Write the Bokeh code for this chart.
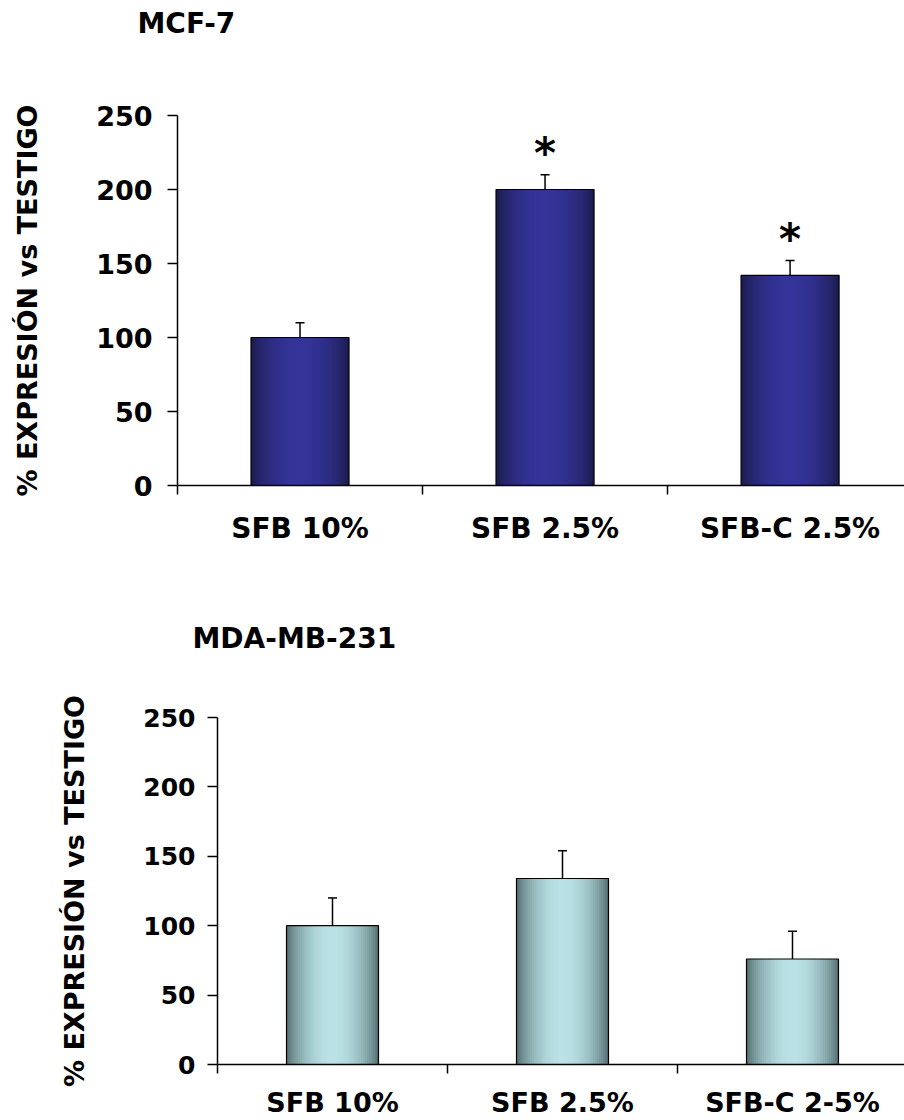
import numpy as np
from bokeh.plotting import figure
from bokeh.models import Range1d, FixedTicker, Whisker, TeeHead, ColumnDataSource, Title
from bokeh.embed import file_html
from bokeh.resources import INLINE
from bokeh.core.properties import value

# ---------------- data ----------------
title_top = "MCF-7"
categories_top = ["SFB 10%", "SFB 2.5%", "SFB-C 2.5%"]
values_top = [100, 200, 142]
errors_top = [10, 10, 10]
signif_top = [False, True, True]

title_bot = "MDA-MB-231"
categories_bot = ["SFB 10%", "SFB 2.5%", "SFB-C 2-5%"]
values_bot = [100, 134, 76]
errors_bot = [20, 20, 20]
signif_bot = [False, False, False]

y_ticks = [0, 50, 100, 150, 200, 250]
y_label = "% EXPRESIÓN vs TESTIGO"

FONT = "DejaVu Sans"


def hex_to_rgb(h):
    h = h.lstrip("#")
    return tuple(int(h[i:i + 2], 16) for i in (0, 2, 4))


def mix(edge, center, f):
    e = np.array(hex_to_rgb(edge), float)
    c = np.array(hex_to_rgb(center), float)
    col = e + (c - e) * f
    return "#%02x%02x%02x" % tuple(int(round(v)) for v in col)


def make_chart(title, cats, vals, errs, sig, edge, center, height, xmax,
               b_left, b_top, b_bottom, t_dx, gap,
               tick_size, tick_standoff, xlab_size, xlab_standoff):
    p = figure(width=904, height=height, x_range=Range1d(0, xmax),
               y_range=Range1d(0, 250), output_backend="svg",
               toolbar_location=None, min_border_left=b_left,
               min_border_right=0, min_border_top=b_top,
               min_border_bottom=b_bottom)
    p.xgrid.visible = False
    p.ygrid.visible = False
    p.outline_line_color = None
    p.background_fill_color = "white"
    p.border_fill_color = "white"

    n = len(cats)
    centers = [i + 0.5 for i in range(n)]
    bar_w = 0.4
    layers = 24
    # concentric layers: widest (edge colour) first, narrowest (centre colour) last
    for k in range(layers):
        frac = 1.0 - k / layers
        t = 0.5 * (1.0 - frac)
        f = np.sin(np.pi * (t + 0.5 / layers / 2)) ** 0.7
        p.vbar(x=centers, top=vals, bottom=0, width=bar_w * frac,
               fill_color=mix(edge, center, f), line_color=None)
    p.vbar(x=centers, top=vals, bottom=0, width=bar_w, fill_color=None,
           line_color="black", line_width=1.2)

    src = ColumnDataSource(dict(x=centers, lower=vals,
                                upper=[v + e for v, e in zip(vals, errs)]))
    w = Whisker(base="x", lower="lower", upper="upper", source=src,
                line_color="black", line_width=1.5,
                upper_head=TeeHead(size=9, line_width=1.5, line_color="black"),
                lower_head=None)
    p.add_layout(w)

    sx = [c for c, s in zip(centers, sig) if s]
    sy = [v + e + 14 for v, e, s in zip(vals, errs, sig) if s]
    if sx:
        p.text(x=sx, y=sy, text=["*"] * len(sx), text_font=value(FONT),
               text_font_style="bold", text_font_size="42px",
               text_align="center", text_baseline="middle", text_color="black")

    # y axis
    ya = p.yaxis[0]
    ya.ticker = FixedTicker(ticks=y_ticks)
    ya.minor_tick_line_color = None
    ya.major_tick_in = 0
    ya.major_tick_out = 10
    ya.major_tick_line_width = 1.5
    ya.axis_line_width = 1.5
    ya.major_label_text_font = FONT
    ya.major_label_text_font_style = "bold"
    ya.major_label_text_font_size = tick_size
    ya.major_label_text_color = "black"
    ya.major_label_standoff = tick_standoff
    ya.axis_label = y_label
    ya.axis_label_text_font = FONT
    ya.axis_label_text_font_style = "bold"
    ya.axis_label_text_font_size = "27px"
    ya.axis_label_text_color = "black"
    ya.axis_label_standoff = 50

    # x axis
    xa = p.xaxis[0]
    xa.ticker = FixedTicker(ticks=centers, minor_ticks=list(range(n + 1)))
    xa.major_label_overrides = {c: lab for c, lab in zip(centers, cats)}
    xa.major_tick_line_color = None
    xa.major_tick_in = 0
    xa.major_tick_out = 0
    xa.minor_tick_in = 0
    xa.minor_tick_out = 9
    xa.minor_tick_line_color = "black"
    xa.minor_tick_line_width = 1.5
    xa.axis_line_width = 1.5
    xa.major_label_text_font = FONT
    xa.major_label_text_font_style = "bold"
    xa.major_label_text_font_size = xlab_size
    xa.major_label_text_color = "black"
    xa.major_label_standoff = xlab_standoff

    # blank spacer between the frame and the title (pushes the title up)
    p.add_layout(Title(text=" ", text_font=FONT, text_font_size="28px",
                       standoff=gap), "above")

    p.title.text = title
    p.title.align = "left"
    p.title.offset = t_dx
    p.title.standoff = 0
    p.title.text_font = FONT
    p.title.text_font_style = "bold"
    p.title.text_font_size = "28px"
    p.title.text_color = "black"
    return p


p1 = make_chart(title_top, categories_top, values_top, errors_top, signif_top,
                "#1a1a48", "#34349a", 576, 2.967, 177, 115, 91, -40, 41,
                "27px", 15, "28px", 17)
p2 = make_chart(title_bot, categories_bot, values_bot, errors_bot, signif_bot,
                "#4c6668", "#bae2e6", 544, 2.987, 217, 141, 56, -25, 28,
                "25px", 12, "27px", 13)

open("out.html", "w").write(file_html([p1, p2], INLINE))
